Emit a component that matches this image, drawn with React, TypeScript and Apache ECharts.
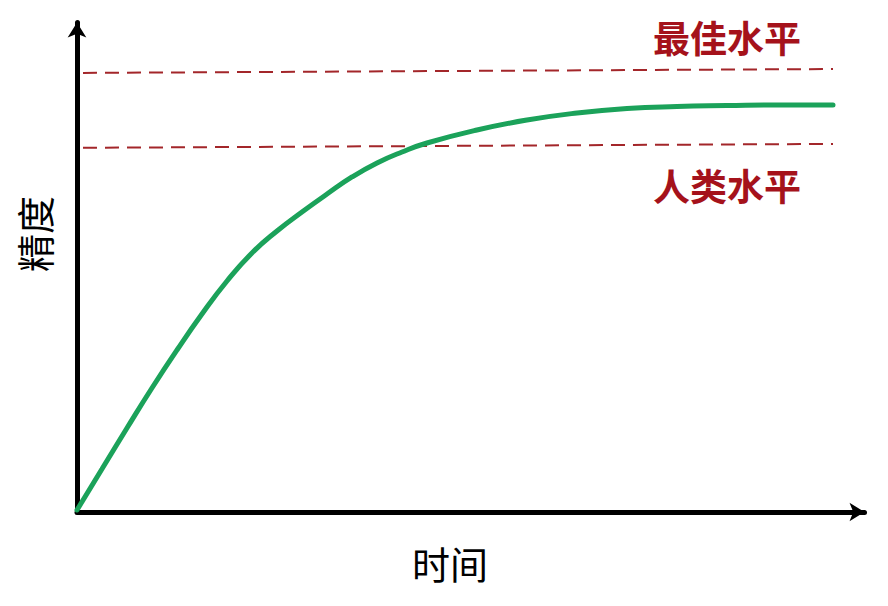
import React, { useEffect, useRef } from "react";
import * as echarts from "echarts";

// Learning curve: time (x) vs accuracy (y), both in relative units 0-100
const timeValues = [0, 3.17, 6.35, 9.52, 12.7, 15.87, 19.05, 22.22, 25.4, 28.57, 31.75, 34.92, 38.1, 41.27, 44.44, 50.79, 57.14, 63.49, 69.84, 76.19, 82.54, 88.89, 96.0];
const accuracyValues = [0.41, 8.78, 17.16, 25.33, 33.1, 40.45, 47.19, 52.91, 57.41, 61.29, 64.96, 68.44, 71.3, 73.54, 75.38, 78.04, 80.08, 81.51, 82.43, 82.84, 83.02, 83.15, 83.15];

// Reference levels (slightly tilted in the original): [x, y] at start and end
const bestLevel = [[0.76, 89.7], [96.0, 90.5]];
const humanLevel = [[0.76, 74.4], [96.0, 75.2]];

const bestLabel = "最佳水平";
const humanLabel = "人类水平";
const xName = "时间";
const yName = "精度";

export default function App() {
  const ref = useRef<HTMLDivElement>(null);
  useEffect(() => {
    if (!ref.current) return;
    const chart = echarts.init(ref.current, null, { renderer: "svg" });
    const cjk = '"Noto Sans CJK SC", "Noto Sans", sans-serif';
    const dashStyle = { color: "#a3262a", width: 2, type: [14, 8] as any };
    chart.setOption({
      animation: false,
      backgroundColor: "#ffffff",
      grid: { left: 77, right: 23.5, top: 22.5, bottom: 94 },
      xAxis: {
        type: "value",
        min: 0,
        max: 100,
        axisLine: { show: true, symbol: ["none", "arrow"], symbolSize: [14, 15], lineStyle: { color: "#000", width: 5 } },
        axisTick: { show: false },
        axisLabel: { show: false },
        splitLine: { show: false },
      },
      yAxis: {
        type: "value",
        min: 0,
        max: 100,
        axisLine: { show: true, symbol: ["none", "arrow"], symbolSize: [14, 15], lineStyle: { color: "#000", width: 5 } },
        axisTick: { show: false },
        axisLabel: { show: false },
        splitLine: { show: false },
      },
      series: [
        {
          type: "line",
          data: timeValues.map((t, i) => [t, accuracyValues[i]]),
          smooth: 0.5,
          showSymbol: false,
          lineStyle: { color: "#1ba25a", width: 5, cap: "round" },
          z: 3,
        },
        {
          type: "line",
          data: bestLevel,
          showSymbol: false,
          lineStyle: dashStyle,
          z: 2,
        },
        {
          type: "line",
          data: humanLevel,
          showSymbol: false,
          lineStyle: dashStyle,
          z: 2,
        },
      ],
      graphic: [
        {
          type: "text",
          x: 727,
          y: 37,
          style: { text: bestLabel, font: `bold 37px ${cjk}`, fill: "#a5121b", textAlign: "center", textVerticalAlign: "middle" },
        },
        {
          type: "text",
          x: 727,
          y: 185,
          style: { text: humanLabel, font: `bold 37px ${cjk}`, fill: "#a5121b", textAlign: "center", textVerticalAlign: "middle" },
        },
        {
          type: "text",
          x: 450,
          y: 562,
          style: { text: xName, font: `38px ${cjk}`, fill: "#000", textAlign: "center", textVerticalAlign: "middle" },
        },
        {
          type: "text",
          x: 33,
          y: 234,
          rotation: Math.PI / 2,
          style: { text: yName, font: `38px ${cjk}`, fill: "#000", textAlign: "center", textVerticalAlign: "middle" },
        },
      ],
    });
    return () => chart.dispose();
  }, []);
  return <div ref={ref} style={{ position: "fixed", left: 0, top: 0, width: 888, height: 606 }} />;
}
